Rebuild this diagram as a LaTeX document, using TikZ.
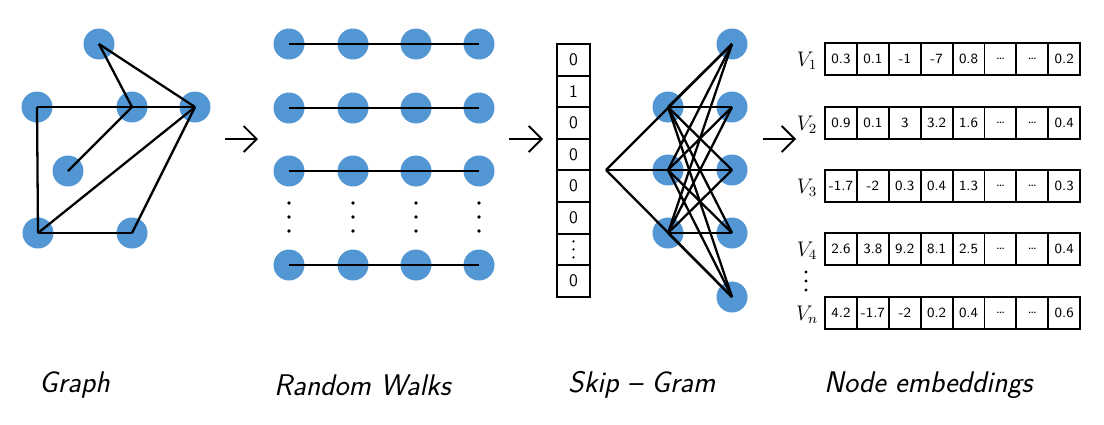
\documentclass[tikz,border=0pt]{standalone}
\usetikzlibrary{arrows.meta}
\definecolor{nodeblue}{RGB}{82,150,212}
\tikzset{
	every picture/.style={/utils/exec={\sffamily}},
	dot/.style={circle, fill=nodeblue, minimum size=0.62cm, inner sep=0pt},
	edge/.style={line width=1.3pt},
	cell/.style={draw, line width=1.1pt, minimum width=0.638cm, minimum height=0.64cm, inner sep=0pt, font=\footnotesize},
	vcell/.style={draw, line width=1.1pt, minimum width=0.66cm, minimum height=0.632cm, inner sep=0pt, font=\normalsize},
	stage/.style={font=\fontsize{17}{20}\selectfont\itshape, anchor=west},
	flow/.style={line width=1.1pt, -{Straight Barb[length=0.26cm, width=0.52cm, line width=1.1pt]}}
}

\begin{document}
\begin{tikzpicture}[x=0.02cm, y=-0.02cm]
		\useasboundingbox (0,0) rectangle (1104,424);

		% graph
		\node[dot] (g1) at (99, 44) {};
		\node[dot] (g2) at (37, 107) {};
		\node[dot] (g3) at (132, 107) {};
		\node[dot] (g4) at (195, 107) {};
		\node[dot] (g5) at (68, 171) {};
		\node[dot] (g6) at (38, 233) {};
		\node[dot] (g7) at (132, 233) {};

		\draw[edge] (g1.center) -- (g3.center);
		\draw[edge] (g1.center) -- (g4.center);
		\draw[edge] (g2.center) -- (g4.center);
		\draw[edge] (g2.center) -- (g6.center);
		\draw[edge] (g5.center) -- (g3.center);
		\draw[edge] (g6.center) -- (g4.center);
		\draw[edge] (g6.center) -- (g7.center);
		\draw[edge] (g7.center) -- (g4.center);

		% random walks
		\foreach \r/\y in {1/44, 2/108, 3/171, 4/265} {
			\foreach \c/\x in {1/289, 2/353, 3/416, 4/479}
				\node[dot] (w\r\c) at (\x, \y) {};
			\draw[edge] (w\r1.center) -- (w\r4.center);
		}
		\foreach \x in {289, 353, 416, 479}
			\foreach \y in {203, 217, 231}
				\fill (\x, \y) circle (1.8);

		% one-hot vector
		\foreach \i/\v in {1/0, 2/1, 3/0, 4/0, 5/0, 6/0, 7/{}, 8/0}
			\node[vcell] (h\i) at (573.5, {44 + 31.6*(\i - 0.5)}) {\v};
		\foreach \d in {-8, 0, 8}
			\fill ([yshift=\d*0.02cm]h7.center) circle (1.2);

		% skip-gram
		\coordinate (apex) at (606, 170);
		\foreach \i/\y in {1/107, 2/170, 3/233}
			\node[dot] (s\i) at (668, \y) {};
		\foreach \j/\y in {1/44, 2/107, 3/170, 4/233, 5/297}
			\node[dot] (o\j) at (732, \y) {};
		\draw[edge] (apex) -- (o1.center);
		\draw[edge] (apex) -- (o3.center);
		\draw[edge] (apex) -- (o5.center);
		\foreach \i in {1, 2, 3}
			\foreach \j in {1, ..., 5}
				\draw[edge] (s\i.center) -- (o\j.center);

		% node embeddings
		\foreach \r/\y/\lab/\vals in {
				1/59/V_1/{0.3, 0.1, -1, -7, 0.8, \dots, \dots, 0.2},
				2/123/V_2/{0.9, 0.1, 3, 3.2, 1.6, \dots, \dots, 0.4},
				3/186/V_3/{-1.7, -2, 0.3, 0.4, 1.3, \dots, \dots, 0.3},
				4/249/V_4/{2.6, 3.8, 9.2, 8.1, 2.5, \dots, \dots, 0.4},
				5/313/V_n/{4.2, -1.7, -2, 0.2, 0.4, \dots, \dots, 0.6}} {
			\node[font=\large] (v\r) at (807, \y + 2) {$\lab$};
			\foreach \v [count=\k] in \vals
				\node[cell] (e\r\k) at ({825 + 31.9*(\k - 0.5)}, \y) {\v};
		}
		\foreach \y in {272, 281, 290}
			\fill (806, \y) circle (1.6);

		% arrows between stages
		\coordinate (a1) at (225, 139);
		\coordinate (b1) at (258, 139);
		\coordinate (a2) at (509, 139);
		\coordinate (b2) at (543, 139);
		\coordinate (a3) at (763, 139);
		\coordinate (b3) at (796, 139);
		\draw[flow] (a1) -- (b1);
		\draw[flow] (a2) -- (b2);
		\draw[flow] (a3) -- (b3);

		% stage labels
		\node[stage] (lgraph) at (33, 385) {Graph};
		\node[stage] (lwalks) at (268, 385) {Random Walks};
		\node[stage] (lskip) at (562, 385) {Skip -- Gram};
		\node[stage] (lemb) at (818, 385) {Node embeddings};
	\end{tikzpicture}
\end{document}
